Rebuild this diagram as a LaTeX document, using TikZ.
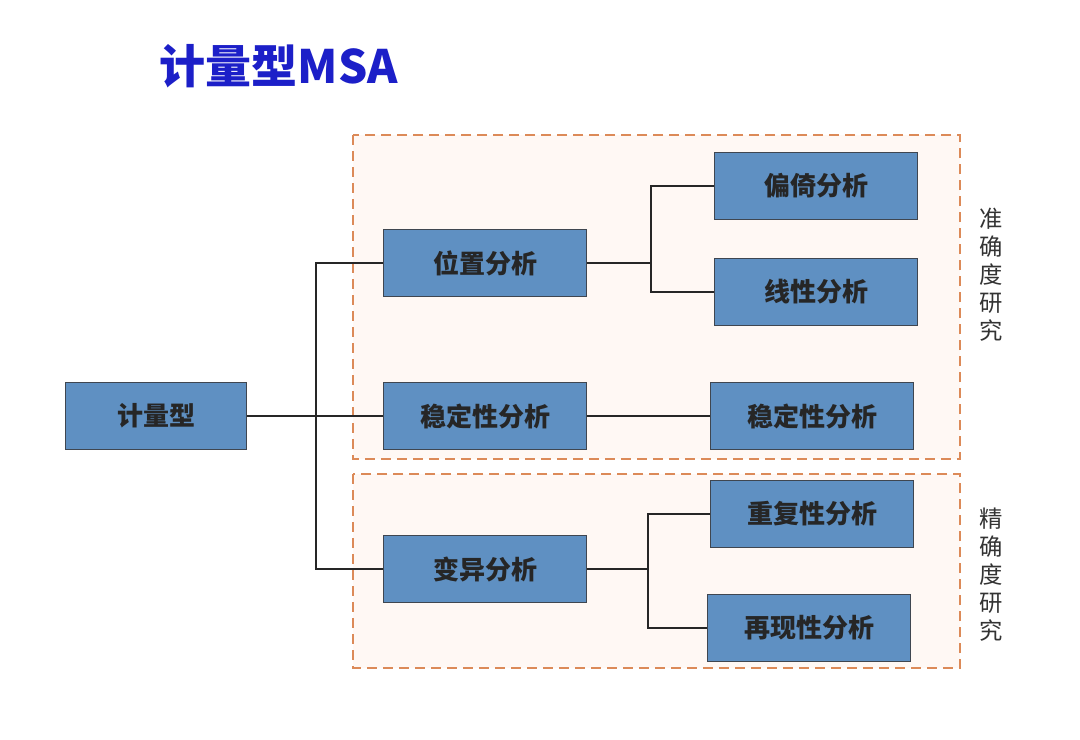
\documentclass[tikz,border=0pt]{standalone}
\usepackage{fontspec}
\setmainfont{Noto Sans CJK SC}
\newfontfamily\cjk{Noto Sans CJK SC}
\definecolor{boxblue}{HTML}{5F90C2}
\definecolor{boxline}{HTML}{3F4650}
\definecolor{titleblue}{HTML}{1C1FC8}
\definecolor{dashorange}{HTML}{DC8A58}
\definecolor{dashfill}{HTML}{FFF8F4}
\begin{document}
\begin{tikzpicture}[x=0.75pt, y=-0.75pt,
		boxnode/.style={draw=boxline, line width=1pt, fill=boxblue, minimum width=152pt, minimum height=50pt, inner sep=0pt, font=\cjk\bfseries\fontsize{19.5}{22}\selectfont, text=black!85},
		group/.style={draw=dashorange, dash pattern=on 7.5pt off 4.5pt, line width=1.7pt, fill=dashfill},
		side/.style={font=\cjk\fontsize{17.5}{21}\selectfont, text=black!80, align=center},
		link/.style={draw=black!85, line width=0.9pt}]
	\useasboundingbox[fill=white] (0,0) rectangle (1080,739);
	% title
	\node[font=\cjk\bfseries\fontsize{34.5}{38}\selectfont, text=titleblue] (title) at (279,66) {计量型MSA};
	% dashed groups
	\draw[group] (353,135) rectangle (960,459);
	\draw[group] (353,474) rectangle (960,668);
	\node[side] (accu) at (991,275) {准\\确\\度\\研\\究};
	\node[side] (prec) at (991,575) {精\\确\\度\\研\\究};
	% boxes
	\node[boxnode, minimum width=136pt] (root) at (156,416) {计量型};
	\node[boxnode] (pos) at (485,263) {位置分析};
	\node[boxnode] (stab) at (485,416) {稳定性分析};
	\node[boxnode] (var) at (485,569) {变异分析};
	\node[boxnode] (bias) at (816,186) {偏倚分析};
	\node[boxnode] (lin) at (816,292) {线性分析};
	\node[boxnode] (stabr) at (812,416) {稳定性分析};
	\node[boxnode] (rep) at (812,514) {重复性分析};
	\node[boxnode] (repro) at (809,628) {再现性分析};
	% connectors
	\coordinate (j1) at (316,416);
	\coordinate (j2) at (651,263);
	\coordinate (j3) at (648,569);
	\draw[link] (root.east) -- (j1);
	\draw[link] (pos.west) -| (j1) |- (var.west);
	\draw[link] (j1) -- (stab.west);
	\draw[link] (stab.east) -- (stabr.west);
	\draw[link] (pos.east) -- (j2);
	\draw[link] (bias.west) -| (j2) |- (lin.west);
	\draw[link] (var.east) -- (j3);
	\draw[link] (rep.west) -| (j3) |- (repro.west);
\end{tikzpicture}
\end{document}
